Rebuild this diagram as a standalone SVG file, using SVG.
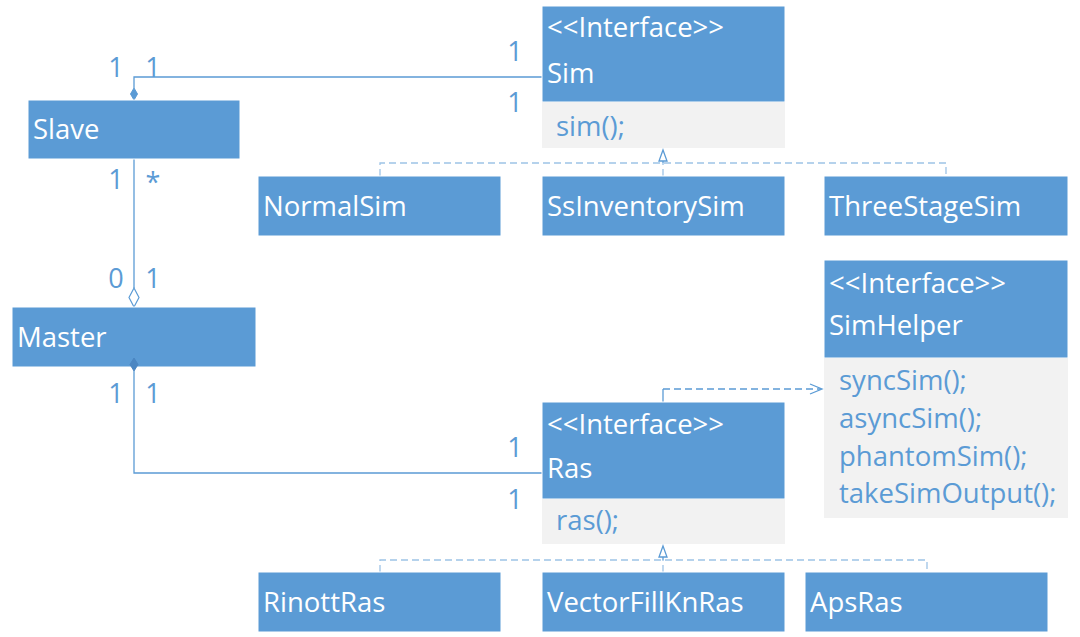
<svg xmlns="http://www.w3.org/2000/svg" width="1080" height="637" viewBox="0 0 1080 637">
<style>
.hdr{fill:#5B9BD5;stroke:#ffffff;stroke-width:1}
.body{fill:#F2F2F2;stroke:none}
.t{font-family:"Open Sans","Liberation Sans",sans-serif;font-size:27.5px;fill:#ffffff}
.m{font-family:"Open Sans","Liberation Sans",sans-serif;font-size:27.5px;fill:#5B9BD5}
.lbl{font-family:"Open Sans","Liberation Sans",sans-serif;font-size:27px;fill:#5B9BD5;text-anchor:middle}
.ln{fill:none;stroke:#5B9BD5;stroke-width:1.3}
.gen{fill:none;stroke:#9DC3E6;stroke-width:1.3;stroke-dasharray:7 4}
.dep{fill:none;stroke:#5B9BD5;stroke-width:1.3;stroke-dasharray:7 4}
.tri{fill:#ffffff;stroke:#5B9BD5;stroke-width:1.3}
</style>
<rect width="1080" height="637" fill="#ffffff"/>
<g id="connectors">
  <polyline class="ln" points="542,77 134,77 134,88"/>
  <polygon points="134,88 137.5,94 134,100 130.5,94" fill="#5B9BD5" stroke="#5B9BD5"/>
  <line class="ln" x1="134" y1="159" x2="134" y2="288"/>
  <polygon points="134,288 139,297.5 134,307 129,297.5" fill="#ffffff" stroke="#5B9BD5" stroke-width="1.2"/>
  <polyline class="ln" points="134,371 134,473 542,473"/>
  <path class="gen" d="M380,176 V163 H946 V176"/>
  <path class="gen" d="M663,176 V163"/>
  <line class="ln" x1="663" y1="161" x2="663" y2="163"/>
  <polygon class="tri" points="663,150 667,161 659,161"/>
  <path class="gen" d="M380,572 V560 H927 V572"/>
  <path class="gen" d="M663,572 V560"/>
  <line class="ln" x1="663" y1="557" x2="663" y2="560"/>
  <polygon class="tri" points="663,546 667,557 659,557"/>
  <line class="ln" x1="663" y1="402" x2="663" y2="389"/>
  <line class="dep" x1="663" y1="389" x2="821" y2="389"/>
  <polyline class="ln" points="810,384 822,389 810,394"/>
  <text class="lbl" x="116" y="77">1</text>
  <text class="lbl" x="153" y="77">1</text>
  <text class="lbl" x="116" y="189">1</text>
  <text class="lbl" x="153" y="192">*</text>
  <text class="lbl" x="116" y="288">0</text>
  <text class="lbl" x="153" y="288">1</text>
  <text class="lbl" x="116" y="403">1</text>
  <text class="lbl" x="153" y="403">1</text>
  <text class="lbl" x="515" y="61">1</text>
  <text class="lbl" x="515" y="112">1</text>
  <text class="lbl" x="515" y="457">1</text>
  <text class="lbl" x="515" y="509">1</text>
</g>
<g id="slave">
  <rect class="hdr" x="28" y="100" width="212" height="59"/>
  <text class="t" x="33" y="139">Slave</text>
</g>
<g id="master">
  <rect class="hdr" x="12" y="307" width="244" height="60"/>
  <text class="t" x="17" y="347">Master</text>
</g>
<polygon points="134,358 138,364.5 134,371 130,364.5" fill="#4A86C2" stroke="#4A86C2"/>
<g id="sim">
  <rect class="hdr" x="542" y="6" width="243" height="96"/>
  <rect class="body" x="542" y="102" width="243" height="46"/>
  <text class="t" x="547" y="37">&lt;&lt;Interface&gt;&gt;</text>
  <text class="t" x="547" y="83">Sim</text>
  <text class="m" x="556" y="136">sim();</text>
</g>
<g id="normalsim">
  <rect class="hdr" x="258" y="176" width="243" height="60"/>
  <text class="t" x="263" y="216">NormalSim</text>
</g>
<g id="ssinventorysim">
  <rect class="hdr" x="542" y="176" width="243" height="60"/>
  <text class="t" x="547" y="216">SsInventorySim</text>
</g>
<g id="threestagesim">
  <rect class="hdr" x="824" y="176" width="244" height="60"/>
  <text class="t" x="829" y="216">ThreeStageSim</text>
</g>
<g id="simhelper">
  <rect class="hdr" x="824" y="260" width="244" height="98"/>
  <rect class="body" x="824" y="358" width="244" height="160"/>
  <text class="t" x="829" y="293">&lt;&lt;Interface&gt;&gt;</text>
  <text class="t" x="829" y="335">SimHelper</text>
  <text class="m" x="839" y="390">syncSim();</text>
  <text class="m" x="839" y="428">asyncSim();</text>
  <text class="m" x="839" y="466">phantomSim();</text>
  <text class="m" x="839" y="503">takeSimOutput();</text>
</g>
<g id="ras">
  <rect class="hdr" x="542" y="402" width="243" height="97"/>
  <rect class="body" x="542" y="499" width="243" height="45"/>
  <text class="t" x="547" y="434">&lt;&lt;Interface&gt;&gt;</text>
  <text class="t" x="547" y="478">Ras</text>
  <text class="m" x="556" y="530">ras();</text>
</g>
<g id="rinottras">
  <rect class="hdr" x="258" y="572" width="243" height="60"/>
  <text class="t" x="263" y="612">RinottRas</text>
</g>
<g id="vectorfillknras">
  <rect class="hdr" x="542" y="572" width="243" height="60"/>
  <text class="t" x="547" y="612">VectorFillKnRas</text>
</g>
<g id="apsras">
  <rect class="hdr" x="805" y="572" width="243" height="60"/>
  <text class="t" x="810" y="612">ApsRas</text>
</g>
</svg>
